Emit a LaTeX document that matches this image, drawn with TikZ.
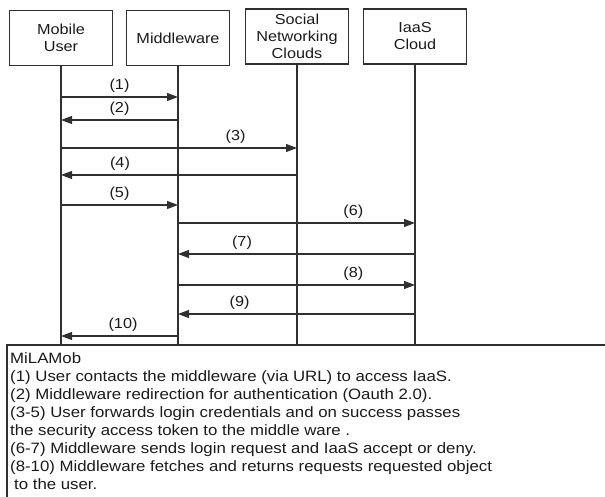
\documentclass[tikz,border=0pt]{standalone}
\usepackage{fontspec}
\setmainfont{Liberation Sans}[FakeStretch=1.12]
\usetikzlibrary{arrows.meta}
\definecolor{ink}{HTML}{303030}
\definecolor{txt}{HTML}{1A1A1A}
\tikzset{
  actor/.style={draw=ink, line width=1.5pt, minimum width=103pt, minimum height=55pt,
    inner sep=0pt, align=center, text=txt, font=\fontsize{14.5}{17}\selectfont},
  lifeline/.style={draw=ink, line width=1.4pt},
  msg/.style={draw=ink, line width=1.1pt, -{Triangle[length=11pt,width=8pt]}},
  msglabel/.style={above=3.5pt, inner sep=0pt, text=txt, font=\fontsize{14.5}{17}\selectfont},
  notebox/.style={draw=ink, line width=1.5pt, minimum width=620pt, minimum height=170pt, inner sep=0pt}
}
\begin{document}
\begin{tikzpicture}[x=1pt,y=-1pt]
    \useasboundingbox (0,0) rectangle (605,497);
    % participants
    \node[actor] (user) at (61,38) {Mobile\\User};
    \node[actor] (mw) at (178,38) {Middleware};
    \node[actor] (snc) at (297,36.5) {Social\\Networking\\Clouds};
    \node[actor] (iaas) at (415,36.5) {IaaS\\Cloud};
    % legend box
    \node[notebox, anchor=north west] (notes) at (6,344) {};
    \node[anchor=north west, inner sep=0pt, align=left, text=txt,
          font=\fontsize{15}{18.1}\selectfont] (legend) at (10,352) {MiLAMob\\
        (1) User contacts the middleware (via URL) to access IaaS.\\
        (2) Middleware redirection for authentication (Oauth 2.0).\\
        (3-5) User forwards login credentials and on success passes\\
        the security access token to the middle ware .\\
        (6-7) Middleware sends login request and IaaS accept or deny.\\
        (8-10) Middleware fetches and returns requests requested object\\
        \hspace{4pt}to the user.};
    % lifelines
    \foreach \p in {user,mw,snc,iaas}
        \draw[lifeline] (\p.south) -- (\p |- notes.north);
    % messages
    \foreach \a/\b/\y/\t/\q in {user/mw/97/1/0.5, mw/user/120/2/0.5, user/snc/148/3/0.74,
        snc/user/175/4/0.75, user/mw/205/5/0.5, mw/iaas/223/6/0.74, iaas/mw/254/7/0.73,
        mw/iaas/285/8/0.74, iaas/mw/314/9/0.74, mw/user/336/10/0.47}
        \draw[msg] (\a |- 0,\y) -- node[msglabel, pos=\q] {(\t)} (\b |- 0,\y);
\end{tikzpicture}
\end{document}
